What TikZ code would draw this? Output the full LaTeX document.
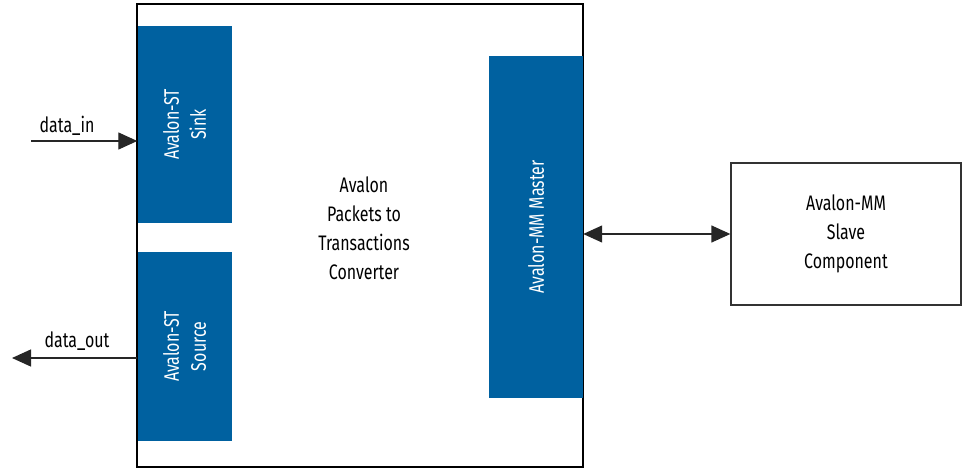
\documentclass[tikz,border=0pt]{standalone}
\usepackage{fontspec}
\setmainfont{Fira Sans}[FakeStretch=0.76]
\usetikzlibrary{arrows.meta}
\definecolor{avblue}{RGB}{0,97,160}
\definecolor{slavegray}{RGB}{51,51,51}
\tikzset{
  txt/.style={font=\fontsize{21}{29}\selectfont, inner sep=0pt},
  blueblock/.style={fill=avblue, draw=none, text=white, txt, align=center},
  conn/.style={line width=1.3pt, draw=black!85},
  tip/.style={-{Triangle[length=19pt,width=17pt]}},
}
\begin{document}
\begin{tikzpicture}[x=1pt,y=-1pt]
\useasboundingbox (0,0) rectangle (963,468);
% main converter box
\node[draw=black, line width=1.3pt, minimum width=446pt, minimum height=463pt, inner sep=0pt] (conv) at (360,235.5) {};
% blocks
\node[blueblock, minimum width=94pt, minimum height=197pt] (sink) at (184.5,124.5) {};
\node[txt, text=white, rotate=90, align=center, font=\fontsize{21}{27}\selectfont] (sinkt) at (sink.center) {Avalon-ST\\Sink};
\node[blueblock, minimum width=94pt, minimum height=189pt] (src) at (184.5,346.5) {};
\node[txt, text=white, rotate=90, align=center, font=\fontsize{21}{27}\selectfont] (srct) at (src.center) {Avalon-ST\\Source};
\node[blueblock, minimum width=94pt, minimum height=342pt] (master) at (536,227) {};
\node[txt, text=white, rotate=90] (mastert) at (master.center) {Avalon-MM Master};
% converter label
\node[txt, align=center] (convt) at (364,228) {Avalon\\Packets to\\Transactions\\Converter};
% slave
\node[draw=slavegray, line width=1.3pt, minimum width=230pt, minimum height=142pt, inner sep=0pt] (slave) at (846,234) {};
\node[txt, align=center] (slavet) at (slave.center) {Avalon-MM\\Slave\\Component};
% connectors
\coordinate (din) at (31,141);
\coordinate (dout) at (12,358);
\draw[conn, tip] (din) -- (din -| sink.west);
\draw[conn, tip] (dout -| src.west) -- (dout);
\draw[conn, {Triangle[length=19pt,width=17pt]}-{Triangle[length=19pt,width=17pt]}] (slave.west -| master.east) -- (slave.west);
% labels
\node[txt] (dinl) at (67,126) {data\_in};
\node[txt] (doutl) at (77,341) {data\_out};
\end{tikzpicture}
\end{document}
